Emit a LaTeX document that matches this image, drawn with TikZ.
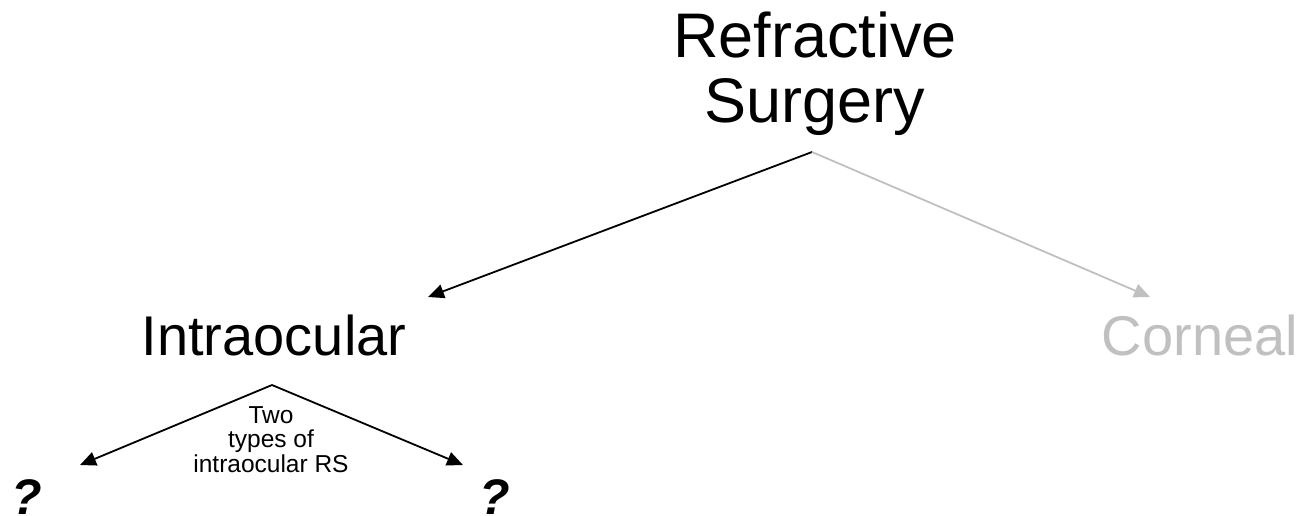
\documentclass[tikz,border=0pt]{standalone}
\usepackage{fontspec}
\setmainfont{Liberation Sans}
\usetikzlibrary{arrows.meta}
\definecolor{lightgrey}{RGB}{192,192,192}

\begin{document}
\begin{tikzpicture}[x=1pt,y=-1pt,
    link/.style={line width=1.8pt,-{Triangle[length=16pt,width=14pt]}},
    big/.style={inner sep=0pt,font=\fontsize{56}{64}\selectfont}]
  \useasboundingbox (0,0) rectangle (1308,515);

  % Nodi
  \node[big,anchor=base,align=center,font=\fontsize{63}{65}\selectfont] (rs) at (815,122) {Refractive\\Surgery};
  \node[big,anchor=base] (intra) at (274,355) {Intraocular};
  \node[big,anchor=base,text=lightgrey] (corneal) at (1200,355) {Corneal};
  \node[anchor=base,align=center,inner sep=0pt,font=\fontsize{24.5}{24.5}\selectfont] (types) at (271,472) {Two\\types of\\intraocular RS};
  \node[anchor=base,inner sep=0pt,font=\fontsize{50}{50}\selectfont\bfseries\itshape] (q1) at (27,514) {?};
  \node[anchor=base,inner sep=0pt,font=\fontsize{50}{50}\selectfont\bfseries\itshape] (q2) at (495,514) {?};

  % Punti degli archi
  \coordinate (rs-top) at (812,152);
  \coordinate (intra-top) at (272,385);
  \coordinate (intra-in) at (428,297);
  \coordinate (corneal-in) at (1150,297);
  \coordinate (q1-in) at (80,465);
  \coordinate (q2-in) at (463,465);

  % Archi
  \draw[link] (rs-top) -- (intra-in);
  \draw[link,lightgrey] (rs-top) -- (corneal-in);
  \draw[link] (intra-top) -- (q1-in);
  \draw[link] (intra-top) -- (q2-in);
\end{tikzpicture}
\end{document}
